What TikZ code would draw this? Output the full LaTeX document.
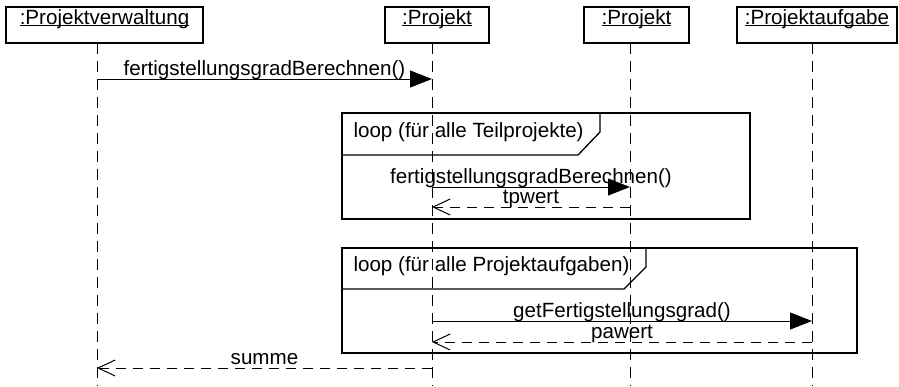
\documentclass[tikz,border=0pt]{standalone}
\usepackage{fontspec}
\setmainfont{Liberation Sans}
\usetikzlibrary{arrows.meta, positioning}
\newcommand{\objname}[1]{\underline{\smash{#1}}}
\tikzset{
  every picture/.style={line width=1pt, font=\fontsize{20.6}{24}\selectfont},
  obj/.style={draw, line width=1.2pt, minimum height=36pt, inner sep=0pt},
  lifeline/.style={dash pattern=on 11pt off 7pt},
  call/.style={-{Triangle[length=22pt, width=17pt]}},
  reply/.style={-{Straight Barb[length=17pt, width=16pt]}, dash pattern=on 10pt off 7pt},
  msg/.style={midway, anchor=base, inner sep=0pt, yshift=4pt},
  frame/.style={draw, line width=1.3pt},
  framelabel/.style={anchor=base west, inner sep=0pt},
}

\begin{document}
\begin{tikzpicture}[x=1pt, y=-1pt]
  \useasboundingbox (0,0) rectangle (899,386);
  % objects
  \node[obj, minimum width=197pt] (pv) at (104.5,25) {\objname{:Projektverwaltung}};
  \node[obj, minimum width=104pt] (p1) at (437,25) {\objname{:Projekt}};
  \node[obj, minimum width=105pt] (p2) at (636.5,25) {\objname{:Projekt}};
  \node[obj, minimum width=160pt] (pa) at (817,25) {\objname{:Projektaufgabe}};
  % lifelines
  \foreach \n/\x in {pv/97, p1/432, p2/630, pa/812}
    \draw[lifeline] (\x,43) coordinate (l\n) -- ++(0,343);
  % loop frames
  \draw[frame] (342,113) rectangle (750,219);
  \draw[frame] (342,155) -- (578,155) -- (600,132) -- (600,113);
  \node[framelabel] (f1) at (353,137) {loop (für alle Teilprojekte)};
  \draw[frame] (342,248) rectangle (857,353);
  \draw[frame] (342,289) -- (624,289) -- (646,267) -- (646,248);
  \node[framelabel] (f2) at (353,271) {loop (für alle Projektaufgaben)};
  % messages
  \draw[call] (lpv |- 0,79) -- node[msg] {fertigstellungsgradBerechnen()} (lp1 |- 0,79);
  \draw[call] (lp1 |- 0,187) -- node[msg] {fertigstellungsgradBerechnen()} (lp2 |- 0,187);
  \draw[reply] (lp2 |- 0,207) -- node[msg] {tpwert} (lp1 |- 0,207);
  \draw[call] (lp1 |- 0,321) -- node[msg] {getFertigstellungsgrad()} (lpa |- 0,321);
  \draw[reply] (lpa |- 0,342) -- node[msg] {pawert} (lp1 |- 0,342);
  \draw[reply] (lp1 |- 0,368) -- node[msg] {summe} (lpv |- 0,368);
\end{tikzpicture}
\end{document}
